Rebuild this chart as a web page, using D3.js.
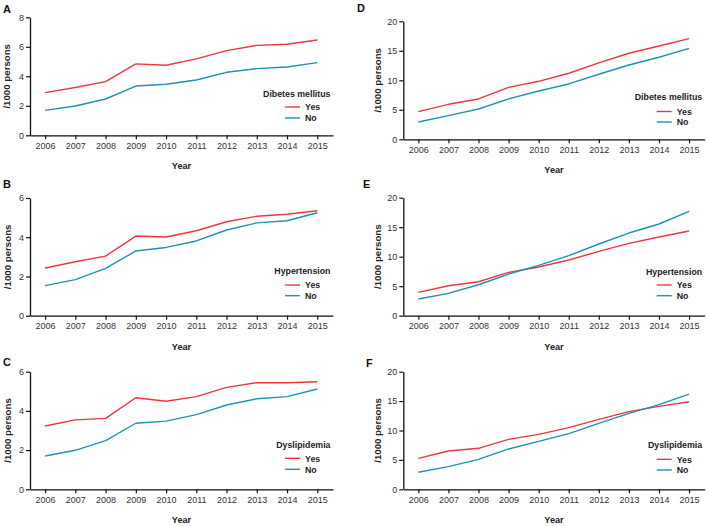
<!DOCTYPE html>
<html>
<head>
<meta charset="utf-8">
<script src="https://cdn.jsdelivr.net/npm/d3@7"></script>
<style>
  html, body { margin: 0; padding: 0; background: #fff; }
  svg { display: block; font-family: "Liberation Sans", Arial, Helvetica, sans-serif; }
</style>
</head>
<body>
<svg id="chart" width="708" height="526"></svg>
<script>
// ---------- Data ----------
const years = [2006, 2007, 2008, 2009, 2010, 2011, 2012, 2013, 2014, 2015];
const seriesNames = ["Yes", "No"];
const panelLetters = ["A", "B", "C", "D", "E", "F"];
const legendTitles = ["Dibetes mellitus", "Hypertension", "Dyslipidemia", "Dibetes mellitus", "Hypertension", "Dyslipidemia"];
const yTicksLeftA = [0, 2, 4, 6, 8];
const yTicksLeftBC = [0, 2, 4, 6];
const yTicksRight = [0, 5, 10, 15, 20];

const aYes = [2.89, 3.24, 3.64, 4.84, 4.75, 5.18, 5.74, 6.10, 6.17, 6.46];
const aNo  = [1.69, 1.99, 2.46, 3.34, 3.46, 3.75, 4.27, 4.52, 4.63, 4.93];
const bYes = [2.43, 2.75, 3.04, 4.06, 4.01, 4.33, 4.79, 5.07, 5.17, 5.35];
const bNo  = [1.53, 1.84, 2.41, 3.30, 3.48, 3.81, 4.37, 4.73, 4.84, 5.25];
const cYes = [3.23, 3.54, 3.62, 4.67, 4.49, 4.73, 5.20, 5.44, 5.44, 5.49];
const cNo  = [1.70, 1.99, 2.48, 3.37, 3.48, 3.81, 4.30, 4.62, 4.73, 5.12];
const dYes = [4.69, 5.93, 6.84, 8.81, 9.83, 11.19, 12.94, 14.58, 15.82, 17.06];
const dNo  = [2.94, 4.01, 5.14, 6.84, 8.19, 9.38, 11.02, 12.60, 13.90, 15.42];
const eYes = [3.95, 5.08, 5.76, 7.34, 8.25, 9.44, 10.90, 12.26, 13.33, 14.35];
const eNo  = [2.82, 3.79, 5.25, 7.06, 8.53, 10.17, 12.15, 14.01, 15.54, 17.68];
const fYes = [5.27, 6.52, 6.97, 8.50, 9.35, 10.48, 11.90, 13.20, 14.11, 14.90];
const fNo  = [2.89, 3.85, 5.10, 6.86, 8.16, 9.46, 11.22, 12.92, 14.39, 16.20];

const colors = { Yes: "#f0353f", No: "#1a94b2" };

// ---------- Layout (positions kept separate from data) ----------
const layout = [
  { x0: 30,    x1: 333,   yTop: 17.3,  yBot: 135.3, ticks: yTicksLeftA,  max: 8,  letter: [3, 13],   ylab: 6.5, leg: [94, 107, 118] },
  { x0: 30,    x1: 333,   yTop: 198,   yBot: 315.7, ticks: yTicksLeftBC, max: 6,  letter: [3, 188],  ylab: 7,   leg: [271, 285, 295.7] },
  { x0: 30,    x1: 333,   yTop: 371.7, yBot: 489.3, ticks: yTicksLeftBC, max: 6,  letter: [3, 366],  ylab: 7,   leg: [445, 458.3, 469.3] },
  { x0: 403.3, x1: 704.7, yTop: 21.3,  yBot: 139.3, ticks: yTicksRight,  max: 20, letter: [357, 12], ylab: 377, leg: [97, 111.5, 122] },
  { x0: 403.3, x1: 704.7, yTop: 197.7, yBot: 315.7, ticks: yTicksRight,  max: 20, letter: [363, 188], ylab: 377, leg: [271.3, 285, 295.7] },
  { x0: 403.3, x1: 704.7, yTop: 371.7, yBot: 489.3, ticks: yTicksRight,  max: 20, letter: [366, 367], ylab: 377, leg: [445, 459.3, 470] }
];
const panelData = [[aYes, aNo], [bYes, bNo], [cYes, cNo], [dYes, dNo], [eYes, eNo], [fYes, fNo]];

const svg = d3.select("#chart");

layout.forEach((L, i) => {
  const g = svg.append("g");
  const x = d3.scaleLinear().domain([2005.5, 2015.52]).range([L.x0, L.x1]);
  const y = d3.scaleLinear().domain([0, L.max]).range([L.yBot, L.yTop]);

  const xa = g.append("g").attr("transform", `translate(0,${L.yBot})`)
    .call(d3.axisBottom(x).tickValues(years).tickFormat(d3.format("d")).tickSizeOuter(0).tickSizeInner(4).tickPadding(3));
  const ya = g.append("g").attr("transform", `translate(${L.x0},0)`)
    .call(d3.axisLeft(y).tickValues(L.ticks).tickFormat(d3.format("d")).tickSizeOuter(0).tickSizeInner(4).tickPadding(2));
  [xa, ya].forEach(a => {
    a.select(".domain").attr("stroke", "#111").attr("stroke-width", 1.3);
    a.selectAll(".tick line").attr("stroke", "#111").attr("stroke-width", 1.2);
    a.selectAll(".tick text").attr("fill", "#333").attr("font-size", 9).attr("font-family", "Liberation Sans, Arial, sans-serif");
  });

  const line = d3.line().x((d, k) => x(years[k])).y(d => y(d));
  seriesNames.forEach((s, k) => {
    g.append("path").datum(panelData[i][k])
      .attr("fill", "none").attr("stroke", colors[s]).attr("stroke-width", 1.4)
      .attr("stroke-linejoin", "round")
      .attr("d", line);
  });

  g.append("text").attr("x", L.letter[0]).attr("y", L.letter[1])
    .attr("font-size", 11).attr("font-weight", "bold").attr("fill", "#111").text(panelLetters[i]);

  g.append("text")
    .attr("transform", `translate(${L.ylab + 3.5},${(L.yTop + L.yBot) / 2}) rotate(-90)`)
    .attr("text-anchor", "middle").attr("font-size", 9.7).attr("font-weight", "bold").attr("fill", "#222")
    .text("/1000 persons");

  g.append("text").attr("x", (L.x0 + L.x1) / 2).attr("y", L.yBot + 34)
    .attr("text-anchor", "middle").attr("font-size", 9.2).attr("font-weight", "bold").attr("fill", "#222")
    .text("Year");

  const right = L.x1 - 2.5;
  const lineX0 = L.x1 - 48, lineX1 = L.x1 - 33, textX = L.x1 - 28;
  g.append("text").attr("x", right).attr("y", L.leg[0] + 3.2)
    .attr("text-anchor", "end").attr("font-size", 8.8).attr("font-weight", "bold").attr("fill", "#222")
    .text(legendTitles[i]);
  seriesNames.forEach((s, k) => {
    const yy = L.leg[k + 1];
    g.append("line").attr("x1", lineX0).attr("x2", lineX1).attr("y1", yy).attr("y2", yy)
      .attr("stroke", colors[s]).attr("stroke-width", 1.4);
    g.append("text").attr("x", textX).attr("y", yy + 3.2)
      .attr("font-size", 8.8).attr("font-weight", "bold").attr("fill", "#222").text(s);
  });
});
</script>
</body>
</html>
